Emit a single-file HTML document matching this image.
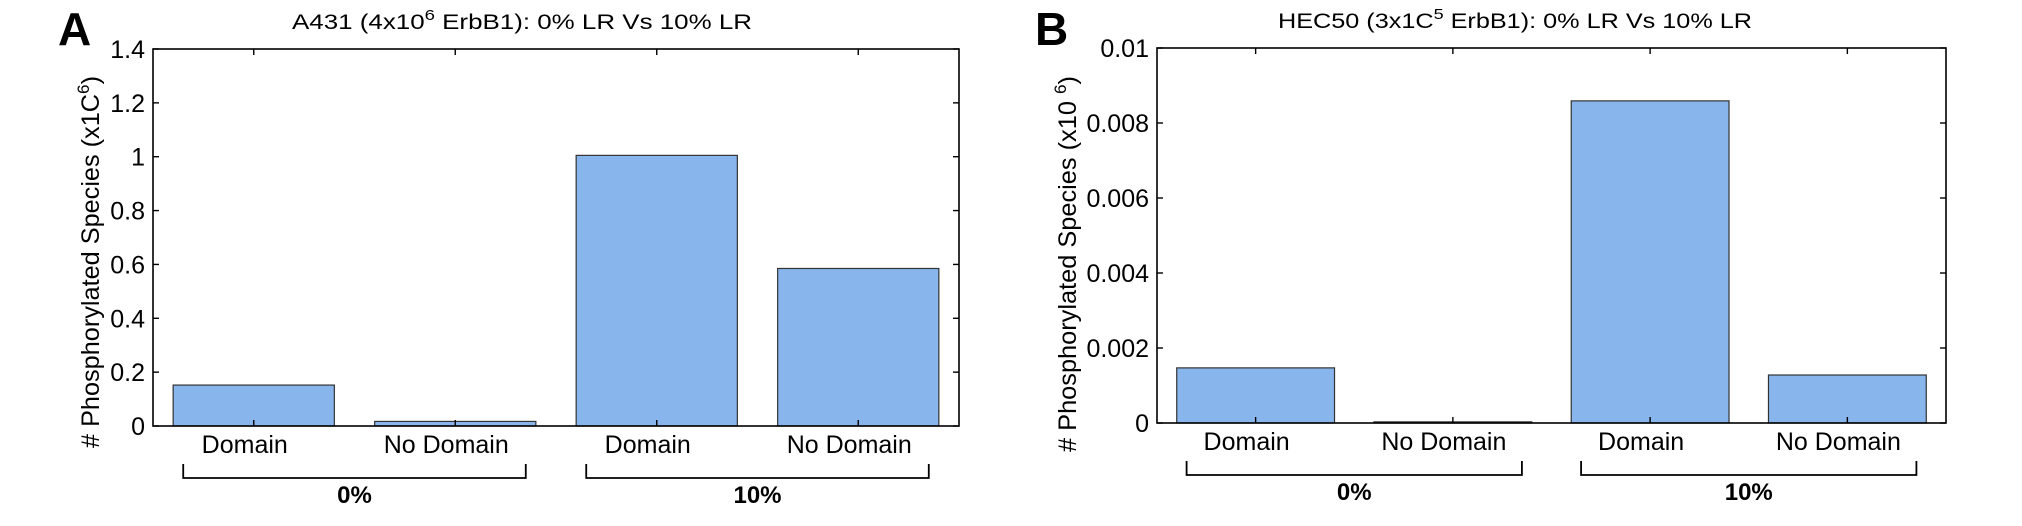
<!DOCTYPE html>
<html><head><meta charset="utf-8"><style>
html,body{margin:0;padding:0;background:#fff;}
svg{display:block;font-family:"Liberation Sans",Arial,sans-serif;}
</style></head><body>
<svg id="fig" width="2022" height="526" viewBox="0 0 2022 526" xmlns="http://www.w3.org/2000/svg"></svg>
<script>
const categories = ["Domain", "No Domain", "Domain", "No Domain"];
const groups = ["0%", "10%"];
const valuesA = [0.152, 0.017, 1.005, 0.585];
const valuesB = [0.00147, 0.00003, 0.00859, 0.00128];
const ticksA = [0, 0.2, 0.4, 0.6, 0.8, 1, 1.2, 1.4];
const tickLabelsA = ["0", "0.2", "0.4", "0.6", "0.8", "1", "1.2", "1.4"];
const ticksB = [0, 0.002, 0.004, 0.006, 0.008, 0.01];
const tickLabelsB = ["0", "0.002", "0.004", "0.006", "0.008", "0.01"];

const NS = "http://www.w3.org/2000/svg";
const svg = document.getElementById("fig");
function mk(tag, attrs, parent, text) {
  const e = document.createElementNS(NS, tag);
  for (const k in attrs) e.setAttribute(k, attrs[k]);
  if (text !== undefined) e.textContent = text;
  (parent || svg).appendChild(e);
  return e;
}

function panel(cfg) {
  const g = mk("g", {});
  
  
  const L = cfg.left, R = cfg.right, T = cfg.top, B = cfg.bottom;
  const ymax = cfg.ticks[cfg.ticks.length - 1];
  const y = v => B - (v / ymax) * (B - T);
  const slot = (R - L) / categories.length;
  const xc = i => L + slot * (i + 0.5);
  const bw = slot * 0.8;

  // bars
  cfg.values.forEach((v, i) => {
    const r = mk("rect", {x: xc(i) - bw / 2, y: y(v), width: bw, height: Math.max(B - y(v), 0.8), fill: "#88b5ec", stroke: "#333", "stroke-width": 1.2}, g);
    
    
  });
  // axes box
  const box = mk("rect", {x: L, y: T, width: R - L, height: B - T, fill: "none", stroke: "#000", "stroke-width": 1.6}, g);
  
  
  // y ticks
  cfg.ticks.forEach((t, i) => {
    const yy = y(t);
    mk("line", {x1: L, x2: L + 6, y1: yy, y2: yy, stroke: "#000", "stroke-width": 1.4}, g);
    mk("line", {x1: R, x2: R - 6, y1: yy, y2: yy, stroke: "#000", "stroke-width": 1.4}, g);
    const tl = mk("text", {x: L - 8, y: yy + 9, "text-anchor": "end", "font-size": 25, fill: "#000"}, g, cfg.tickLabels[i]);
    
    
  });
  // x ticks and labels
  categories.forEach((c, i) => {
    mk("line", {x1: xc(i), x2: xc(i), y1: T, y2: T + 6, stroke: "#000", "stroke-width": 1.4}, g);
    mk("line", {x1: xc(i), x2: xc(i), y1: B, y2: B - 6, stroke: "#000", "stroke-width": 1.4}, g);
    const xl = mk("text", {x: xc(i) - 9, y: B + 27, "text-anchor": "middle", "font-size": 25, fill: "#000"}, g, c);
    
    
  });
  // group brackets
  groups.forEach((gname, j) => {
    const x1 = xc(2 * j) - slot * 0.35, x2 = xc(2 * j + 1) + slot * 0.35;
    const br = mk("path", {d: `M${x1} ${B + 38} V${B + 52} H${x2} V${B + 38}`, fill: "none", stroke: "#000", "stroke-width": 1.8}, g);
    
    
    const gl = mk("text", {x: (x1 + x2) / 2, y: B + 77, "text-anchor": "middle", "font-size": 24, "font-weight": "bold", fill: "#000"}, g, gname);
    
    
  });
  return g;
}

panel({key: "a", left: 153, right: 959, top: 49, bottom: 426, values: valuesA, ticks: ticksA, tickLabels: tickLabelsA});
panel({key: "b", left: 1157, right: 1946, top: 48, bottom: 423, values: valuesB, ticks: ticksB, tickLabels: tickLabelsB});
</script>
<script>
// static text: titles, panel letters, y-axis titles
(function(){
  const svg = document.getElementById("fig");
  svg.insertAdjacentHTML("beforeend", `
  <text x="58" y="45" font-size="46" font-weight="bold">A</text>
  <text x="1035" y="45" font-size="46" font-weight="bold">B</text>
  <text x="292" y="29" font-size="21" textLength="460" lengthAdjust="spacingAndGlyphs">A431 (4x10<tspan dy="-9" font-size="15">6</tspan><tspan dy="9"> ErbB1): 0% LR Vs 10% LR</tspan></text>
  <text x="1278" y="28" font-size="21" textLength="474" lengthAdjust="spacingAndGlyphs">HEC50 (3x1C<tspan dy="-9" font-size="15">5</tspan><tspan dy="9"> ErbB1): 0% LR Vs 10% LR</tspan></text>
  <text transform="translate(99,262) rotate(-90)" text-anchor="middle" font-size="25" textLength="372" lengthAdjust="spacingAndGlyphs"># Phosphorylated Species (x1C<tspan dy="-10" font-size="17">6</tspan><tspan dy="10">)</tspan></text>
  <text transform="translate(1076,264) rotate(-90)" text-anchor="middle" font-size="25" textLength="376" lengthAdjust="spacingAndGlyphs"># Phosphorylated Species (x10 <tspan dy="-10" font-size="17">6</tspan><tspan dy="10">)</tspan></text>
  `);
})();
</script>
</body></html>
